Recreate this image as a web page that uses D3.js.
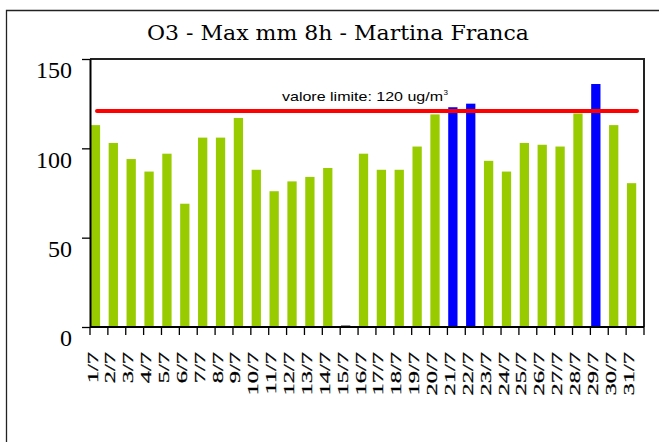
<!DOCTYPE html>
<html>
<head>
<meta charset="utf-8">
<script src="https://cdn.jsdelivr.net/npm/d3@7"></script>
<style>
  html, body { margin: 0; padding: 0; background: #fff; }
  svg { display: block; }
</style>
</head>
<body>
<svg id="chart" width="659" height="442"></svg>
<script>
// ---- data ----
const categories = ["1/7","2/7","3/7","4/7","5/7","6/7","7/7","8/7","9/7","10/7","11/7","12/7","13/7","14/7","15/7","16/7","17/7","18/7","19/7","20/7","21/7","22/7","23/7","24/7","25/7","26/7","27/7","28/7","29/7","30/7","31/7"];
const values = [113, 103, 94, 87, 97, 69, 106, 106, 117, 88, 76, 81.5, 84, 89, 0, 97, 88, 88, 101, 119, 123, 125, 93, 87, 103, 102, 101, 119.5, 136, 113, 80.5];
const yTicks = [0, 50, 100, 150];
const limitValue = 120;
const titleText = "O3 - Max mm 8h - Martina Franca";
const limitLabel = "valore limite: 120 ug/m";

// ---- layout ----
const svg = d3.select("#chart");
const plot = { left: 90, right: 644, top: 59, bottom: 327 };

const x = d3.scaleBand().domain(categories).range([plot.left, plot.right]).padding(0);
const y = d3.scaleLinear().domain([0, 150]).range([plot.bottom, plot.top]);
const bw = x.bandwidth();

// outer frame (top and left visible)
svg.append("path")
  .attr("d", "M6.5,442 V10.5 H659")
  .attr("fill", "none").attr("stroke", "#222").attr("stroke-width", 1.3);

// title
svg.append("text")
  .attr("x", 338).attr("y", 40)
  .attr("text-anchor", "middle")
  .attr("font-family", "DejaVu Serif, serif")
  .attr("font-size", 20)
  .attr("textLength", 382).attr("lengthAdjust", "spacingAndGlyphs")
  .attr("fill", "#000")
  .text(titleText);

// bars
svg.append("g").selectAll("rect")
  .data(values)
  .join("rect")
  .attr("x", (d, i) => x(categories[i]) + 0.8)
  .attr("width", bw * 0.52)
  .attr("y", d => d === 0 ? y(0) - 1.5 : y(d))
  .attr("height", d => d === 0 ? 1.5 : y(0) - y(d))
  .attr("fill", d => d === 0 ? "#222" : (d > limitValue ? "#0000FF" : "#99CC00"));

// plot frame top/right
svg.append("path")
  .attr("d", `M${plot.left},${plot.top} H${plot.right} V${plot.bottom}`)
  .attr("fill", "none").attr("stroke", "#222").attr("stroke-width", 2);

// y axis
const yAxis = svg.append("g")
  .attr("transform", `translate(${plot.left},0)`)
  .call(d3.axisLeft(y).tickValues(yTicks).tickSize(8).tickPadding(10).tickSizeOuter(0));
yAxis.select(".domain").attr("stroke", "#000").attr("stroke-width", 2);
yAxis.selectAll(".tick line").attr("stroke", "#000").attr("stroke-width", 1.3);
yAxis.selectAll(".tick text")
  .attr("font-family", "Liberation Serif, Times New Roman, serif")
  .attr("font-size", 24)
  .attr("dy", "0.79em")
  .attr("fill", "#000");

// x axis line
svg.append("line")
  .attr("x1", plot.left).attr("x2", plot.right)
  .attr("y1", y(0)).attr("y2", y(0))
  .attr("stroke", "#000").attr("stroke-width", 2);

// x ticks at band boundaries
const tickPos = categories.map(c => x(c)).concat([x.range()[1]]);
svg.append("g").selectAll("line")
  .data(tickPos)
  .join("line")
  .attr("x1", d => d).attr("x2", d => d)
  .attr("y1", y(0)).attr("y2", y(0) + 8)
  .attr("stroke", "#000").attr("stroke-width", 1.3);

// x labels (rotated, compressed)
svg.append("g").selectAll("text")
  .data(categories)
  .join("text")
  .attr("transform", d => `translate(${x(d) + 7.5},352) rotate(-90) scale(1,0.6)`)
  .attr("text-anchor", "end")
  .attr("font-family", "Liberation Serif, Times New Roman, serif")
  .attr("font-size", 24.5)
  .attr("fill", "#000")
  .attr("stroke", "#000")
  .attr("stroke-width", 0.4)
  .text(d => d);

// limit line
svg.append("line")
  .attr("x1", x(categories[0]) + 7)
  .attr("x2", x(categories[categories.length - 1]) + bw - 7)
  .attr("y1", y(limitValue) - 1.5).attr("y2", y(limitValue) - 1.5)
  .attr("stroke", "#FF0000").attr("stroke-width", 4).attr("stroke-linecap", "round");

// limit label
svg.append("text")
  .attr("x", 282).attr("y", 101)
  .attr("font-family", "Liberation Sans, Arial, sans-serif")
  .attr("font-size", 13)
  .attr("textLength", 161).attr("lengthAdjust", "spacingAndGlyphs")
  .attr("fill", "#000")
  .text(limitLabel);
svg.append("text")
  .attr("x", 443.5).attr("y", 95)
  .attr("font-family", "Liberation Sans, Arial, sans-serif")
  .attr("font-size", 8)
  .attr("fill", "#000")
  .text("3");
</script>
</body>
</html>
